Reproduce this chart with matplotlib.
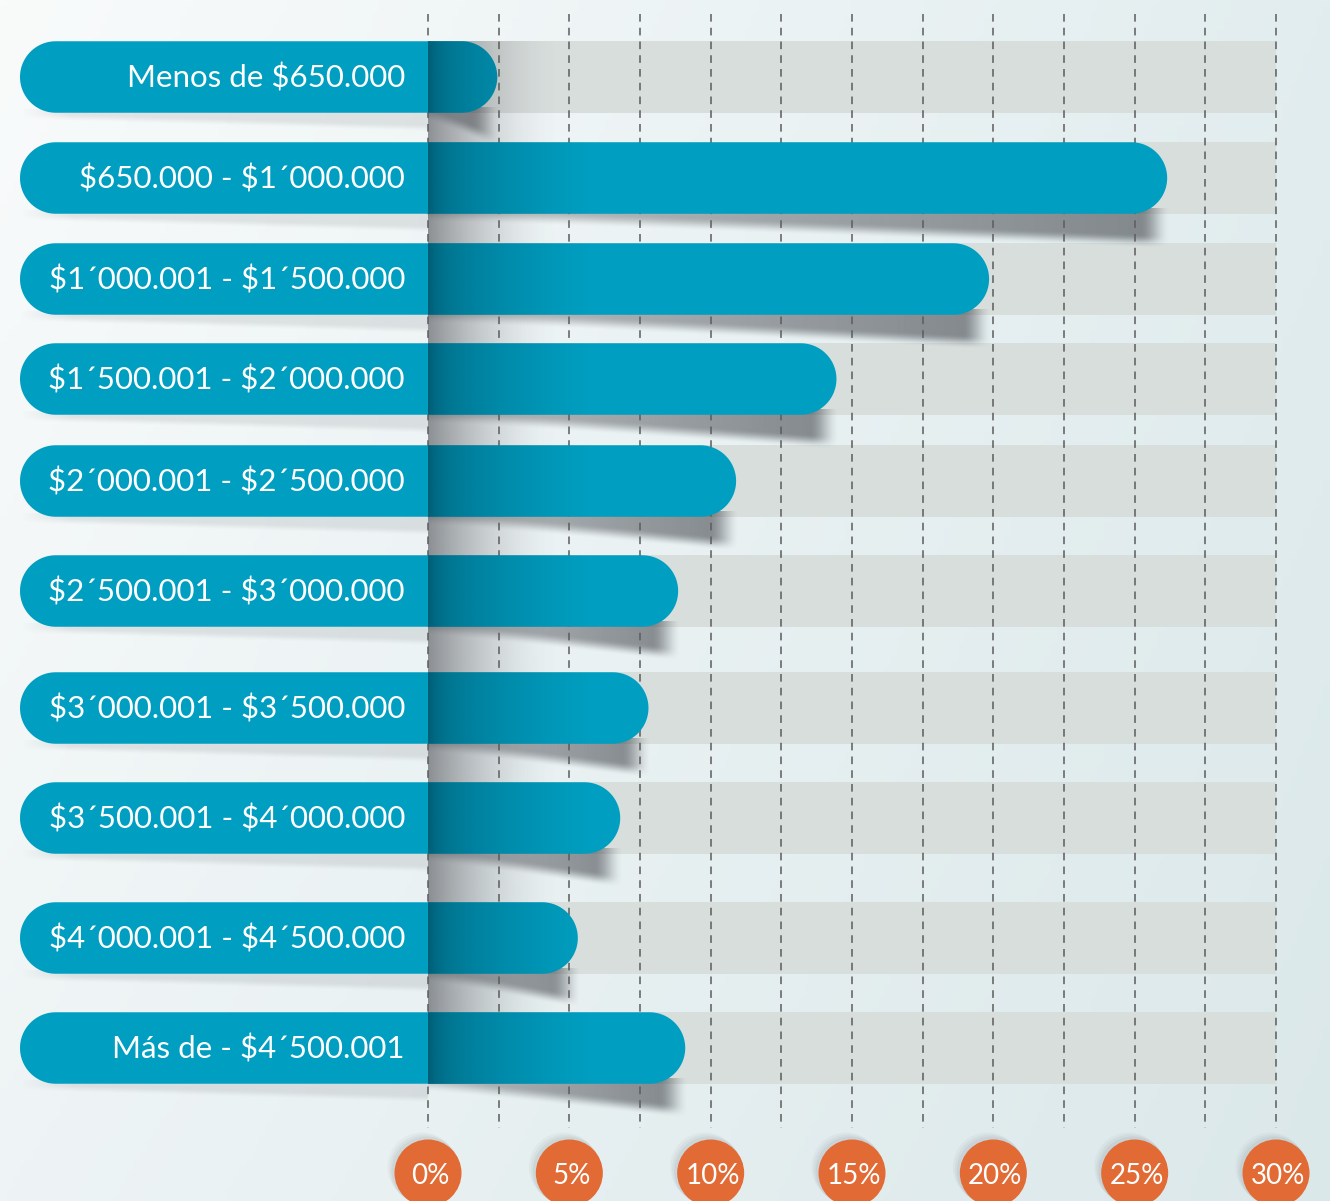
import numpy as np
import matplotlib
matplotlib.use("Agg")
import matplotlib.pyplot as plt
from matplotlib.path import Path
from matplotlib.patches import PathPatch, Ellipse, Rectangle
from matplotlib.colors import to_rgb

# data
categories = [
    "Menos de $650.000",
    "$650.000 - $1´000.000",
    "$1´000.001 - $1´500.000",
    "$1´500.001 - $2´000.000",
    "$2´000.001 - $2´500.000",
    "$2´500.001 - $3´000.000",
    "$3´000.001 - $3´500.000",
    "$3´500.001 - $4´000.000",
    "$4´000.001 - $4´500.000",
    "Más de - $4´500.001",
]
values = [2.45, 26.15, 19.85, 14.45, 10.9, 8.85, 7.8, 6.8, 5.3, 9.1]
tick_values = [0, 5, 10, 15, 20, 25, 30]
tick_labels = ["0%", "5%", "10%", "15%", "20%", "25%", "30%"]

# layout (pixels of the 1330x1201 canvas)
W, H = 1330, 1201
PX0 = 428.0                       # pixel of 0 %
PX_PER = (1276.0 - 428.0) / 30.0  # pixels per 1 %
row_centers = [77, 178, 279, 379, 481, 591, 708, 818, 938, 1048]
BAR_H = 71.5
LABEL_LEFT = (20 - PX0) / PX_PER

TEAL = "#009fc1"
DARK_TEAL = "#00475c"
BAND = "#d8dedc"
ORANGE = "#e26a34"
GRID = "#5c5c5c"
FONT = ["Lato", "DejaVu Sans"]


def pill_path(x0, x1, yc, h, n=60):
    ry = h / 2.0
    rx = ry / PX_PER
    t = np.linspace(-np.pi / 2, np.pi / 2, n)
    right = np.column_stack([x1 - rx + rx * np.cos(t), yc + ry * np.sin(t)])
    left = np.column_stack([x0 + rx - rx * np.cos(t), yc - ry * np.sin(t)])
    verts = np.vstack([right, left, right[:1]])
    codes = [Path.MOVETO] + [Path.LINETO] * (len(verts) - 2) + [Path.CLOSEPOLY]
    return Path(verts, codes)


def rgba_image(color, alpha):
    r, g, b = to_rgb(color)
    img = np.zeros(alpha.shape + (4,))
    img[..., 0], img[..., 1], img[..., 2] = r, g, b
    img[..., 3] = np.clip(alpha, 0, 1)
    return img


def smooth(z):
    z = np.clip(z, 0, 1)
    return z * z * (3 - 2 * z)


fig = plt.figure(figsize=(W / 100, H / 100), dpi=100)
ax = fig.add_axes([0, 0, 1, 1])
x_min, x_max = -PX0 / PX_PER, (W - PX0) / PX_PER

# background gradient
gx = np.linspace(0, 1, 200)[None, :]
gy = np.linspace(0, 1, 200)[:, None]
tl, tr = np.array(to_rgb("#f9fbfb")), np.array(to_rgb("#e2edef"))
bl, br = np.array(to_rgb("#eef4f5")), np.array(to_rgb("#dbe8ea"))
bg = ((1 - gx)[..., None] * ((1 - gy)[..., None] * tl + gy[..., None] * bl)
      + gx[..., None] * ((1 - gy)[..., None] * tr + gy[..., None] * br))
ax.imshow(bg, extent=(x_min, x_max, H, 0), aspect="auto", zorder=0)

# grey bands behind each bar
for yc in row_centers:
    ax.add_patch(Rectangle((0, yc - BAR_H / 2), 30, BAR_H, color=BAND, lw=0, zorder=1))

# shadow strip to the right of the 0 % line
sx = np.linspace(0, 1, 300)
strip_alpha = 0.6 * (1 - sx) ** 1.8
ax.imshow(rgba_image("#4a4c52", strip_alpha[None, :]),
          extent=(0, 4.8, row_centers[-1] + BAR_H / 2, row_centers[0] - BAR_H / 2),
          aspect="auto", zorder=2)

# drop shadows under the bars
for yc, v in zip(row_centers, values):
    bottom = yc + BAR_H / 2
    right = v + 1.0
    xs = np.linspace(0, right, 500)[None, :]
    ys = np.linspace(bottom - 6, bottom + 50, 140)[:, None]
    rel = np.clip(xs / v, 0, 1)
    depth = 1 + 27 * rel ** 1.1
    edge = smooth((bottom + depth - ys) / 14 + 0.5)
    end = v - 12 / PX_PER
    fade = smooth((end - xs) / (30 / PX_PER) + 0.5)
    a = 0.56 * edge * fade * (0.5 + 0.5 * rel)
    ax.imshow(rgba_image("#33363c", a), extent=(0, right, bottom + 50, bottom - 6),
              aspect="auto", zorder=2.2, interpolation="bilinear")
    # faint shadow under the label part
    lx = np.linspace(LABEL_LEFT, 0, 300)[None, :]
    ly = np.linspace(bottom - 4, bottom + 24, 60)[:, None]
    frac = (lx - LABEL_LEFT) / (0 - LABEL_LEFT)
    ldepth = 3 + 12 * frac
    la = 0.14 * smooth((bottom + ldepth - ly) / 8 + 0.5) * np.clip(frac * 8, 0, 1)
    ax.imshow(rgba_image("#5a5e64", la), extent=(LABEL_LEFT, 0, bottom + 24, bottom - 4),
              aspect="auto", zorder=2.2, interpolation="bilinear")

# dashed grid
ax.vlines(np.arange(0, 30.01, 2.5), 14, 1128, colors=GRID, linestyles=(0, (5, 4)),
          lw=1.1, zorder=3)

# bars
for yc, v, lab in zip(row_centers, values, categories):
    path = pill_path(LABEL_LEFT, v, yc, BAR_H)
    patch = PathPatch(path, facecolor=TEAL, edgecolor="none", zorder=4)
    ax.add_patch(patch)
    gxs = np.linspace(0, 6, 300)
    ga = 0.5 * np.clip(1 - gxs / 6, 0, 1) ** 1.3 + 0.25 * np.exp(-gxs / 0.45)
    im = ax.imshow(rgba_image(DARK_TEAL, ga[None, :]),
                   extent=(0, 6, yc + BAR_H / 2, yc - BAR_H / 2),
                   aspect="auto", zorder=5)
    im.set_clip_path(patch)
    ax.text(-23 / PX_PER, yc + 1, lab, ha="right", va="center", color="white",
            fontsize=22.5, family=FONT, zorder=6, parse_math=False)

# orange percentage markers
CIRC_Y, CIRC_R = 1173, 33.5
for t, lab in zip(tick_values, tick_labels):
    for k, al in [(6, 0.06), (4, 0.08), (2, 0.1)]:
        ax.add_patch(Ellipse((t - k / PX_PER, CIRC_Y - k), 2 * (CIRC_R + 1) / PX_PER,
                             2 * (CIRC_R + 1), color="#7a8288", alpha=al, lw=0, zorder=6))
    ax.add_patch(Ellipse((t, CIRC_Y), 2 * CIRC_R / PX_PER, 2 * CIRC_R,
                         color=ORANGE, lw=0, zorder=7))
    ax.text(t + 2 / PX_PER, CIRC_Y + 3, lab, ha="center", va="center", color="white",
            fontsize=20, family=FONT, zorder=8, parse_math=False)

ax.set_xlim(x_min, x_max)
ax.set_ylim(H, 0)
ax.axis("off")
fig.savefig("out.png", dpi=100)
